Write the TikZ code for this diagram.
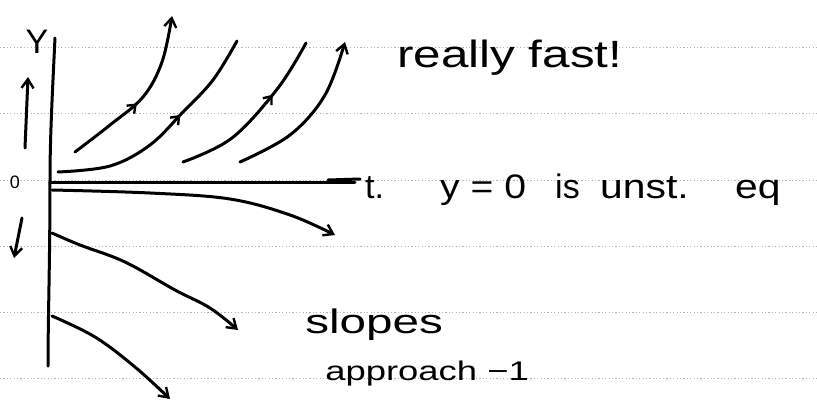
\documentclass[tikz,border=0pt]{standalone}
\usepackage{fontspec}
\setmainfont{Liberation Sans}
\usetikzlibrary{arrows.meta,decorations.markings}
\begin{document}
\begin{tikzpicture}[x=1pt,y=-1pt,
  ink/.style={line width=3pt,line cap=round,line join=round},
  rule/.style={gray!60,line width=0.5pt,dash pattern=on 1.2pt off 2.2pt},
  tip/.style={-{Straight Barb[length=9pt,width=12pt,line width=2.4pt]}},
  midtip/.style={postaction={decorate},decoration={markings,mark=at position #1 with {\arrow{Straight Barb[length=7pt,width=11pt,line width=2.4pt]}}}},
  hand/.style={font=\fontsize{34}{34}\selectfont,inner sep=0pt,anchor=base west}]
\useasboundingbox (0,0) rectangle (817,401);
% ruled paper lines
\foreach \yy in {47,113,180,246,312,378}
  \draw[rule] (0,\yy) -- (817,\yy);
% axes
\coordinate (vtop) at (55,38);
\coordinate (vmid) at (50,180);
\coordinate (vbot) at (48,366);
\draw[ink] (vtop) .. controls (52,100) and (50,140) .. (vmid) .. controls (50,260) and (48,320) .. (vbot);
\coordinate (hl) at (50,183);
\coordinate (hr) at (355,183);
\draw[ink] (hl) -- (hr);
\draw[ink] (328,180) -- (360,179);
% axis labels
\node[hand,anchor=base] (ylab) at (37,54) {Y};
\node[hand,font=\fontsize{18}{18}\selectfont,anchor=center] (zero) at (15,182) {0};
\coordinate (ua) at (25,148); \coordinate (ub) at (28,77);
\draw[ink,tip] (ua) -- (ub);
\coordinate (da) at (22,218); \coordinate (db) at (14,258);
\draw[ink,tip] (da) -- (db);
% solution curves above
\draw[ink,tip,midtip=0.45] plot[smooth,tension=0.6] coordinates {(75,152) (110,125) (143,97) (162,62) (172,16)};
\draw[ink,midtip=0.6] plot[smooth,tension=0.6] coordinates {(58,172) (110,166) (150,145) (183,112) (213,80) (237,41)};
\draw[ink,midtip=0.65] plot[smooth,tension=0.6] coordinates {(183,162) (232,138) (278,88) (306,43)};
\draw[ink,tip] plot[smooth,tension=0.6] coordinates {(240,162) (290,135) (325,95) (345,42)};
% solution curves below
\draw[ink,tip] plot[smooth,tension=0.6] coordinates {(52,190) (150,193) (230,199) (290,215) (335,235)};
\draw[ink,tip] plot[smooth,tension=0.6] coordinates {(52,233) (80,245) (125,262) (175,290) (210,308) (238,330)};
\draw[ink,tip] plot[smooth,tension=0.6] coordinates {(52,316) (95,337) (135,367) (170,399)};
% texts
\node[hand,font=\fontsize{38}{38}\selectfont,xscale=1.3,transform shape] (fast) at (397,68) {really fast!};
\node[hand] (tlab) at (365,198) {t.};
\node[hand,xscale=1.15,transform shape] (yeq) at (440,198) {y = 0};
\node[hand] (is) at (555,198) {is};
\node[hand,xscale=1.2,transform shape] (unst) at (600,198) {unst.};
\node[hand,xscale=1.2,transform shape] (eq) at (735,198) {eq};
\node[hand,xscale=1.4,transform shape] (slopes) at (305,333) {slopes};
\node[hand,font=\fontsize{27}{27}\selectfont,xscale=1.35,transform shape] (appr) at (325,380) {approach −1};
\end{tikzpicture}
\end{document}
